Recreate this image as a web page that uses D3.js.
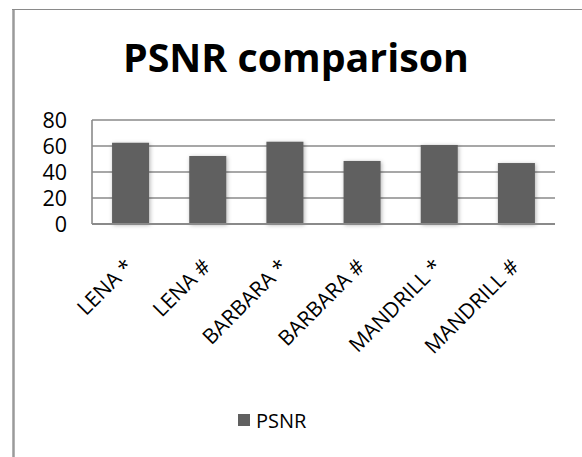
<!DOCTYPE html>
<html><head><meta charset="utf-8">
<script src="https://cdn.jsdelivr.net/npm/d3@7"></script>
<style>body{margin:0;background:#fff} svg{display:block}</style>
</head><body><svg id="c" width="582" height="457"></svg>
<script>
const categories = ["LENA *","LENA #","BARBARA *","BARBARA #","MANDRILL *","MANDRILL #"];
const psnr = [62.5, 52.3, 63.3, 48.5, 60.8, 46.9];
const yTicks = [0, 20, 40, 60, 80];
const seriesName = "PSNR";
const titleText = "PSNR comparison";

const svg = d3.select("#c");
const defs = svg.append("defs");
const f = defs.append("filter").attr("id","sh").attr("x","-30%").attr("y","-30%").attr("width","160%").attr("height","160%");
f.append("feDropShadow").attr("dx",1).attr("dy",1).attr("stdDeviation",2.2).attr("flood-color","#000").attr("flood-opacity",0.3);

// outer frame
svg.append("line").attr("x1",13.5).attr("x2",13.5).attr("y1",9).attr("y2",457).attr("stroke","#9a9a9a").attr("stroke-width",2.5);
svg.append("line").attr("x1",12).attr("x2",582).attr("y1",9.5).attr("y2",9.5).attr("stroke","#8a8a8a").attr("stroke-width",1);

// title
const title = svg.append("text").text(titleText)
  .attr("x",296).attr("y",72).attr("text-anchor","middle")
  .attr("font-family","'Open Sans', sans-serif").attr("font-weight","bold").attr("font-size",40).attr("fill","#000");
const tw = title.node().getComputedTextLength();
title.attr("font-size", 40 * 346 / tw);

const L = 92, R = 555, T = 120, B = 224;
const x = d3.scaleBand().domain(categories).range([L, R]).paddingInner(0.52).paddingOuter(0.26);
const y = d3.scaleLinear().domain([0, 80]).range([B, T]);

// gridlines
const g = svg.append("g");
g.selectAll("line.grid").data(yTicks.filter(d => d > 0)).join("line")
  .attr("x1", L).attr("x2", R).attr("y1", d => y(d)).attr("y2", d => y(d))
  .attr("stroke","#8a8a8a").attr("stroke-width",1.6);

// y axis line
g.append("line").attr("x1",L).attr("x2",L).attr("y1",T).attr("y2",B).attr("stroke","#8a8a8a").attr("stroke-width",1.6);

// y tick labels
const yAxis = d3.axisLeft(y).tickValues(yTicks).tickSize(0).tickPadding(0);
const ya = svg.append("g").attr("transform", `translate(${L - 25},0)`).call(yAxis);
ya.select(".domain").remove();
ya.selectAll("text").attr("font-family","'Open Sans', sans-serif").attr("font-size",21.5).attr("fill","#000").attr("dy","0.36em");

// bars
svg.append("g").selectAll("rect").data(psnr).join("rect")
  .attr("x", (d,i) => x(categories[i]))
  .attr("width", x.bandwidth())
  .attr("y", d => y(d))
  .attr("height", d => B - y(d))
  .attr("fill","#606060")
  .attr("filter","url(#sh)");

// bottom axis line
svg.append("line").attr("x1",L).attr("x2",R).attr("y1",B).attr("y2",B).attr("stroke","#8a8a8a").attr("stroke-width",2);

// x labels
const xa = svg.append("g");
xa.selectAll("text").data(categories).join("text")
  .attr("transform", d => `translate(${x(d) + x.bandwidth()/2 + 4},${B + 44}) rotate(-45)`)
  .attr("text-anchor","end")
  .attr("font-family","'Open Sans', sans-serif").attr("font-size",21).attr("fill","#000")
  .text(d => d);

// legend
const lg = svg.append("g");
lg.append("rect").attr("x",238).attr("y",414).attr("width",12).attr("height",12).attr("fill","#606060");
lg.append("text").attr("x",256).attr("y",428).text(seriesName)
  .attr("font-family","'Open Sans', sans-serif").attr("font-size",20).attr("fill","#000");
</script></body></html>
